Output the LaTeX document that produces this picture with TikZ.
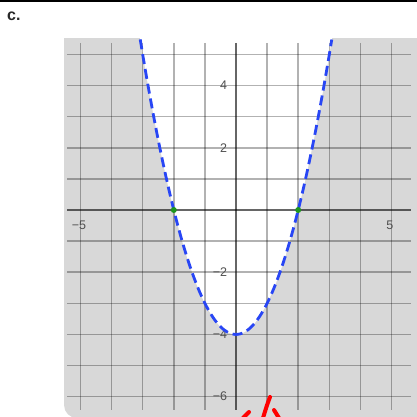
\documentclass[tikz,border=0pt]{standalone}
\usepackage{fontspec}
\setmainfont{Liberation Sans}
\definecolor{bggray}{RGB}{216,216,216}
\definecolor{curveblue}{RGB}{40,70,245}
\definecolor{dotgreen}{RGB}{30,150,30}
\definecolor{labgray}{RGB}{80,80,80}
\definecolor{titlecol}{RGB}{40,40,40}
\begin{document}
\begin{tikzpicture}[x=1pt,y=1pt,
  gridline/.style={black,opacity=0.3,line width=1.5pt},
  axisline/.style={black,opacity=0.6,line width=2.2pt},
  ticklabel/.style={text=labgray,font=\fontsize{12.5}{12.5}\selectfont,inner sep=0pt},
  curvestyle/.style={curveblue,line width=2.8pt,dash pattern=on 10pt off 5pt},
  rootdot/.style={circle,fill=dotgreen,inner sep=0pt,minimum size=6pt},
  redmark/.style={red,line width=4pt,line cap=round}]
\useasboundingbox (0,0) rectangle (417,-416);
\clip (0,0) rectangle (417,-416);
\draw[line width=2pt] (0,-1) -- (417,-1);
\node[font=\bfseries\fontsize{16}{16}\selectfont, text=titlecol, anchor=west, inner sep=0pt] (title) at (7,-16) {c.};
\fill[bggray] (64,-38) -- (64,-405) arc[start angle=180,end angle=270,radius=13] -- (430,-418) -- (430,-38) -- cycle;
\begin{scope}[shift={(236,-210)}, x=31.1pt, y=31.1pt]
  \fill[white] plot[domain=-3.09:3.09, samples=100] (\x,{\x*\x-4}) -- cycle;
  \foreach \u in {-5,-4,-3,-2,-1,1,2,3,4,5}
    \draw[gridline] (\u,5.37) -- (\u,-6.43);
  \foreach \v in {-6,-5,-4,-3,-2,-1,1,2,3,4,5}
    \draw[gridline] (-5.43,\v) -- (5.63,\v);
  \draw[axisline] (0,5.37) -- (0,-6.43);
  \draw[axisline] (-5.43,0) -- (5.63,0);
  \node[ticklabel, anchor=east] (ly4) at (-0.28,4) {4};
  \node[ticklabel, anchor=east] (ly2) at (-0.28,2) {2};
  \node[ticklabel, anchor=east] (lym2) at (-0.28,-2) {−2};
  \node[ticklabel, anchor=east] (lym4) at (-0.28,-4) {−4};
  \node[ticklabel, anchor=east] (lym6) at (-0.28,-6) {−6};
  \node[ticklabel] (lxm5) at (-5.05,-0.5) {−5};
  \node[ticklabel] (lx5) at (4.95,-0.5) {5};
  \draw[curvestyle] plot[domain=-3.08:3.08, samples=120] (\x,{\x*\x-4});
  \node[rootdot] (r1) at (-2,0) {};
  \node[rootdot] (r2) at (2,0) {};
\end{scope}
\draw[redmark] (270,-397) .. controls (267,-405) .. (263,-418);
\draw[redmark] (243,-418) -- (249,-412);
\draw[redmark] (274,-410) -- (279,-418);
\end{tikzpicture}
\end{document}
